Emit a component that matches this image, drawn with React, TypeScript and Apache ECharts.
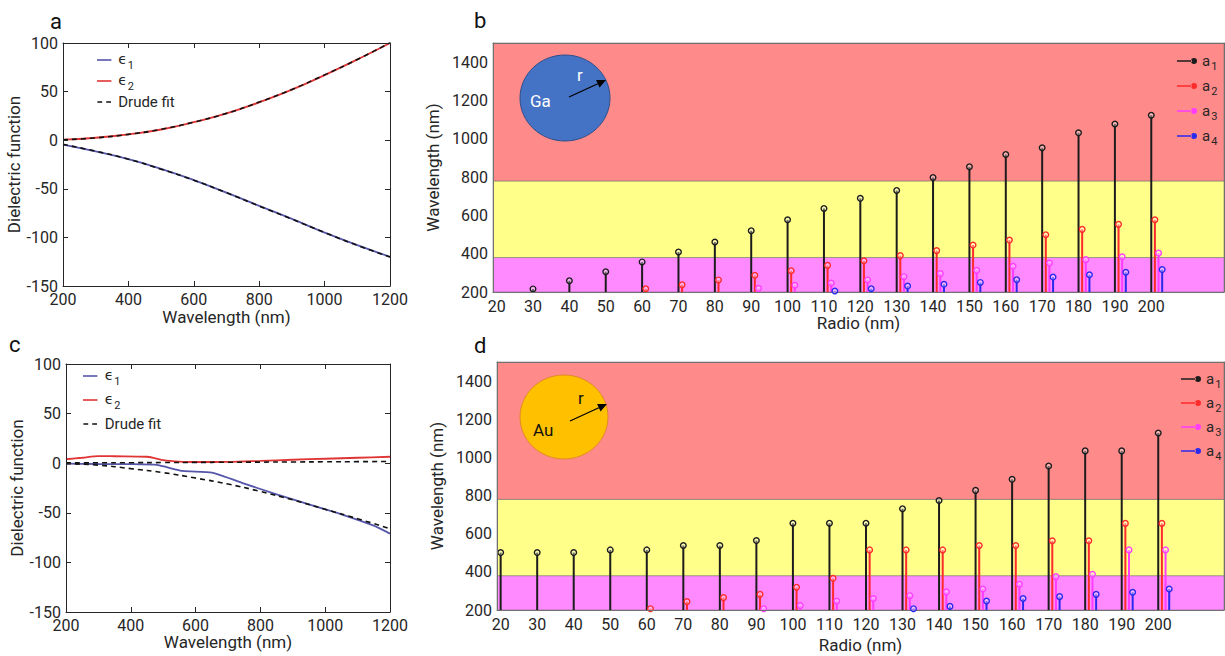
import React, { useEffect, useRef } from 'react';
import * as echarts from 'echarts';

// ---------- data ----------
// Panel a (Ga dielectric function)
const wlGa = [200, 300, 400, 500, 600, 700, 800, 900, 1000, 1100, 1200];
const gaEps1 = [-4.5, -11.5, -19.5, -29.5, -41, -54, -67.5, -81, -95, -108, -120];
const gaEps2 = [0.5, 2.5, 6, 11, 18.5, 27.5, 39, 52, 67, 83, 100];
const gaDrude1 = [-4.3, -11.3, -19.5, -29.8, -41.2, -54, -67.8, -81.2, -95, -108.2, -120.2];
const gaDrude2 = [0.4, 2.4, 6, 11.2, 18.6, 27.6, 39.2, 52.2, 67.2, 83, 100.2];

// Panel c (Au dielectric function)
const wlAuEps1 = [200, 300, 400, 480, 560, 650, 750, 850, 950, 1050, 1150, 1200];
const auEps1 = [-0.5, -0.8, -1, -1.7, -7.8, -9.6, -20.5, -31.5, -41.5, -51.5, -63, -71];
const wlAuEps2 = [200, 250, 300, 350, 450, 500, 550, 600, 700, 800, 900, 1000, 1100, 1200];
const auEps2 = [4, 5.5, 7.2, 7, 6.5, 3, 1.5, 1.2, 1.3, 2.3, 3.5, 4.5, 5.5, 6.5];
const wlAuDrude = [200, 300, 400, 500, 600, 700, 800, 900, 1000, 1100, 1200];
const auDrude1 = [-0.5, -2, -5.5, -9.5, -15, -21, -28.5, -37, -46.5, -56, -66];
const auDrude2 = [0.3, 0.4, 0.5, 0.65, 0.8, 0.95, 1.1, 1.25, 1.4, 1.55, 1.7];

// Panels b, d (resonance wavelengths vs radius)
const radii = [20, 30, 40, 50, 60, 70, 80, 90, 100, 110, 120, 130, 140, 150, 160, 170, 180, 190, 200];
const modeOffsets = [0, 1, 2, 3];
const gaA1 = [null, 216, 259, 306, 357, 409, 461, 520, 577, 636, 689, 730, 798, 854, 918, 953, 1031, 1077, 1123];
const gaA2 = [null, null, null, null, 217, 238, 263, 287, 311, 339, 363, 390, 416, 445, 471, 499, 527, 553, 577];
const gaA3 = [null, null, null, null, null, null, null, 219, 235, 247, 263, 280, 296, 313, 334, 351, 369, 384, 403];
const gaA4 = [null, null, null, null, null, null, null, null, null, 205, 217, 231, 240, 250, 264, 278, 290, 303, 317];
const auA1 = [501, 501, 501, 515, 515, 538, 538, 564, 655, 655, 655, 731, 774, 827, 885, 955, 1034, 1034, 1128];
const auA2 = [null, null, null, null, 207, 244, 265, 282, 319, 366, 515, 515, 515, 538, 538, 563, 563, 654, 654];
const auA3 = [null, null, null, null, null, null, null, 207, 223, 247, 260, 275, 295, 310, 335, 375, 387, 515, 515];
const auA4 = [null, null, null, null, null, null, null, null, null, null, null, 207, 219, 247, 260, 270, 282, 293, 310];

// spectral bands (nm): UV / visible / IR
const bandLow = [200, 380, 780];
const bandHigh = [380, 780, 1500];

const xTicksRadio = [20, 30, 40, 50, 60, 70, 80, 90, 100, 110, 120, 130, 140, 150, 160, 170, 180, 190, 200];
const yTicksWl = [200, 400, 600, 800, 1000, 1200, 1400];

// ---------- styles ----------
const FONT = 'Roboto, "Open Sans", sans-serif';
const TXT = '#262626';
const bandColors = ['#FF8AFF', '#FFFF8A', '#FF8A8A'];
const modeColors = ['#1c1c1c', '#FF2A2A', '#FF3CFF', '#2A2AEE'];
const modeNames = ['a1', 'a2', 'a3', 'a4'];
const blueLine = '#5555AA';
const redLine = '#E03535';

const pairs = (xs: number[], ys: number[]) => xs.map((x, i) => [x, ys[i]]);

const stemData = (vals: (number | null)[], off: number) =>
  radii.map((r, i) => (vals[i] == null ? null : [r + off, vals[i]])).filter((d) => d != null);

const stemRender = (color: string) => (params: any, api: any) => {
  const x = api.value(0);
  const y = api.value(1);
  const top = api.coord([x, y]);
  const base = api.coord([x, 200]);
  return {
    type: 'group',
    children: [
      { type: 'line', shape: { x1: top[0], y1: base[1], x2: top[0], y2: top[1] }, style: { stroke: color, lineWidth: 2 } },
      { type: 'circle', shape: { cx: top[0], cy: top[1], r: 2.8 }, style: { stroke: color, fill: 'rgba(255,255,255,0.35)', lineWidth: 1.4 } },
    ],
  };
};

const bandRender = (params: any, api: any) => {
  const lo = api.value(0);
  const hi = api.value(1);
  const cs = params.coordSys;
  const y1 = api.coord([100, hi])[1];
  const y0 = api.coord([100, lo])[1];
  return {
    type: 'rect',
    shape: { x: cs.x, y: y1, width: cs.width, height: y0 - y1 },
    style: { fill: bandColors[params.dataIndex], stroke: 'rgba(110,110,110,0.55)', lineWidth: 1 },
  };
};

const stemIcon = 'path://M0,2.2L15,2.2L15,3.8L0,3.8Z M14,3A3,3,0,1,0,20,3A3,3,0,1,0,14,3Z';
const solidIcon = 'path://M0,0L18,0L18,2L0,2Z';
const dashIcon = 'path://M0,0L6,0L6,2L0,2Z M11,0L17,0L17,2L11,2Z';

const richText = {
  b: { fontSize: 15, lineHeight: 16, verticalAlign: 'top', color: TXT, fontFamily: FONT },
  e: { fontSize: 14, lineHeight: 16, verticalAlign: 'top', color: TXT, fontFamily: '"DejaVu Sans", sans-serif' },
  s: { fontSize: 11, lineHeight: 11, verticalAlign: 'top', padding: [8, 0, 0, 1], color: TXT, fontFamily: FONT },
  d: { fontSize: 15, lineHeight: 16, verticalAlign: 'top', padding: [0, 0, 3, 0], color: TXT, fontFamily: FONT },
};

const legendFormatter = (name: string) => {
  if (name === 'Drude fit') return '{d|Drude fit}';
  if (name.startsWith('ϵ')) return `{e|ϵ}{s|${name.slice(1)}}`;
  return `{b|${name[0]}}{s|${name.slice(1)}}`;
};

const plainNum = (v: number) => String(v);
const axisLabelStyle = { color: TXT, fontSize: 16, fontFamily: FONT, formatter: plainNum };
const nameStyle = { color: TXT, fontSize: 17, fontFamily: FONT };

function dielectricAxes(grid: number, xGap: number, yGap: number) {
  const lineStyle = { color: '#262626', width: 1 };
  const x = [
    {
      type: 'value', gridIndex: grid, min: 200, max: 1200, interval: 200, z: 5,
      name: 'Wavelength (nm)', nameLocation: 'middle', nameGap: xGap, nameTextStyle: nameStyle,
      axisLine: { show: true, onZero: false, lineStyle },
      axisTick: { show: true, inside: true, length: 5, lineStyle },
      axisLabel: { ...axisLabelStyle, margin: 5 },
      splitLine: { show: false },
    },
    {
      type: 'value', gridIndex: grid, position: 'top', min: 200, max: 1200, interval: 200, z: 5,
      axisLine: { show: true, onZero: false, lineStyle },
      axisTick: { show: true, inside: true, length: 5, lineStyle },
      axisLabel: { show: false }, splitLine: { show: false },
    },
  ];
  const y = [
    {
      type: 'value', gridIndex: grid, min: -150, max: 100, interval: 50, z: 5,
      name: 'Dielectric function', nameLocation: 'middle', nameGap: yGap, nameTextStyle: nameStyle,
      axisLine: { show: true, onZero: false, lineStyle },
      axisTick: { show: true, inside: true, length: 5, lineStyle },
      axisLabel: { ...axisLabelStyle, margin: 5 },
      splitLine: { show: false },
    },
    {
      type: 'value', gridIndex: grid, position: 'right', min: -150, max: 100, interval: 50, z: 5,
      axisLine: { show: true, onZero: false, lineStyle },
      axisTick: { show: true, inside: true, length: 5, lineStyle },
      axisLabel: { show: false }, splitLine: { show: false },
    },
  ];
  return { x, y };
}

function radioAxes(grid: number, xMax: number, xGap: number, yGap: number) {
  const lineStyle = { color: '#707070', width: 1 };
  const x = [
    {
      type: 'value', gridIndex: grid, min: 19, max: xMax, z: 5,
      name: 'Radio (nm)', nameLocation: 'middle', nameGap: xGap, nameTextStyle: nameStyle,
      axisLine: { show: true, onZero: false, lineStyle },
      axisTick: { show: false },
      axisLabel: { ...axisLabelStyle, margin: 6, customValues: xTicksRadio },
      splitLine: { show: false },
    },
    {
      type: 'value', gridIndex: grid, position: 'top', min: 19, max: xMax, z: 5,
      axisLine: { show: true, onZero: false, lineStyle },
      axisTick: { show: false }, axisLabel: { show: false }, splitLine: { show: false },
    },
  ];
  const y = [
    {
      type: 'value', gridIndex: grid, min: 200, max: 1500, z: 5,
      name: 'Wavelength (nm)', nameLocation: 'middle', nameGap: yGap, nameTextStyle: nameStyle,
      axisLine: { show: true, onZero: false, lineStyle },
      axisTick: { show: false },
      axisLabel: { ...axisLabelStyle, margin: 5, customValues: yTicksWl },
      splitLine: { show: false },
    },
    {
      type: 'value', gridIndex: grid, position: 'right', min: 200, max: 1500, z: 5,
      axisLine: { show: true, onZero: false, lineStyle },
      axisTick: { show: false }, axisLabel: { show: false }, splitLine: { show: false },
    },
  ];
  return { x, y };
}

function lineSeries(name: string, xi: number, data: number[][], color: string, dashed: boolean, smooth: boolean | number) {
  return {
    type: 'line', name, xAxisIndex: xi, yAxisIndex: xi, data, smooth,
    symbol: 'none', showSymbol: false, z: dashed ? 4 : 3,
    itemStyle: { color },
    lineStyle: { color, width: dashed ? 1.6 : 1.8, type: dashed ? [5, 4] : 'solid' },
  };
}

function stemSeries(xi: number, sets: (number | null)[][]) {
  const out: any[] = [
    {
      type: 'custom', name: 'bands', xAxisIndex: xi, yAxisIndex: xi, silent: true, z: 1,
      data: bandLow.map((lo, i) => [lo, bandHigh[i]]),
      renderItem: bandRender,
    },
  ];
  sets.forEach((vals, k) => {
    out.push({
      type: 'custom', name: modeNames[k], xAxisIndex: xi, yAxisIndex: xi, z: 3 + k,
      itemStyle: { color: modeColors[k] },
      data: stemData(vals, modeOffsets[k]),
      renderItem: stemRender(modeColors[k]),
    });
  });
  return out;
}

function arrow(x1: number, y1: number, x2: number, y2: number) {
  const dx = x2 - x1, dy = y2 - y1;
  const len = Math.hypot(dx, dy);
  const ux = dx / len, uy = dy / len;
  const nx = -uy, ny = ux;
  const hl = 9, hw = 4.2;
  const bx = x2 - ux * hl, by = y2 - uy * hl;
  return [
    { type: 'line', z: 101, shape: { x1, y1, x2: bx, y2: by }, style: { stroke: '#000', lineWidth: 1.3 } },
    { type: 'polygon', z: 101, shape: { points: [[x2, y2], [bx + nx * hw, by + ny * hw], [bx - nx * hw, by - ny * hw]] }, style: { fill: '#000' } },
  ];
}

export default function App() {
  const ref = useRef<HTMLDivElement>(null);
  useEffect(() => {
    if (!ref.current) return;
    const chart = echarts.init(ref.current, null, { renderer: 'svg' });
    const A = dielectricAxes(0, 22, 40);
    const C = dielectricAxes(1, 21, 40);
    const B = radioAxes(2, 220, 20, 44);
    const D = radioAxes(3, 218, 26, 45);

    const legendBase = {
      orient: 'vertical', formatter: legendFormatter, textStyle: { rich: richText, color: TXT },
      selectedMode: false, padding: 0,
    };
    const epsLegendData = [
      { name: 'ϵ1', icon: solidIcon },
      { name: 'ϵ2', icon: solidIcon },
      { name: 'Drude fit', icon: dashIcon },
    ];

    chart.setOption({
      animation: false,
      backgroundColor: '#ffffff',
      grid: [
        { left: 63, top: 43, width: 327, height: 243 },
        { left: 66, top: 364, width: 324, height: 248 },
        { left: 493, top: 43, width: 731, height: 249 },
        { left: 497, top: 362, width: 727, height: 248 },
      ],
      xAxis: [...A.x, ...C.x, ...B.x, ...D.x],
      yAxis: [...A.y, ...C.y, ...B.y, ...D.y],
      legend: [
        { ...legendBase, left: 97, top: 52, itemWidth: 18, itemHeight: 1.6, itemGap: 2, data: epsLegendData },
        { ...legendBase, left: 83, top: 368, itemWidth: 19, itemHeight: 1.6, itemGap: 5, data: epsLegendData },
        { ...legendBase, left: 1177, top: 53, itemWidth: 20, itemHeight: 6, itemGap: 6, icon: stemIcon, data: modeNames },
        { ...legendBase, left: 1181, top: 371, itemWidth: 20, itemHeight: 6, itemGap: 5, icon: stemIcon, data: modeNames },
      ],
      series: [
        lineSeries('ϵ1', 0, pairs(wlGa, gaEps1), blueLine, false, true),
        lineSeries('ϵ2', 0, pairs(wlGa, gaEps2), redLine, false, true),
        lineSeries('Drude fit', 0, pairs(wlGa, gaDrude1), '#111', true, true),
        lineSeries('Drude fit', 0, pairs(wlGa, gaDrude2), '#111', true, true),
        lineSeries('ϵ1', 2, pairs(wlAuEps1, auEps1), blueLine, false, 0.15),
        lineSeries('ϵ2', 2, pairs(wlAuEps2, auEps2), redLine, false, 0.3),
        lineSeries('Drude fit', 2, pairs(wlAuDrude, auDrude1), '#111', true, true),
        lineSeries('Drude fit', 2, pairs(wlAuDrude, auDrude2), '#111', true, true),
        ...stemSeries(4, [gaA1, gaA2, gaA3, gaA4]),
        ...stemSeries(6, [auA1, auA2, auA3, auA4]),
      ],
      graphic: [
        { type: 'text', z: 100, left: 50, top: 10, style: { text: 'a', fontSize: 22, fill: '#111', fontFamily: FONT } },
        { type: 'text', z: 100, left: 474, top: 9, style: { text: 'b', fontSize: 22, fill: '#111', fontFamily: FONT } },
        { type: 'text', z: 100, left: 9, top: 333, style: { text: 'c', fontSize: 22, fill: '#111', fontFamily: FONT } },
        { type: 'text', z: 100, left: 474, top: 334, style: { text: 'd', fontSize: 22, fill: '#111', fontFamily: FONT } },
        { type: 'ellipse', z: 100, shape: { cx: 565, cy: 98, rx: 45, ry: 43 }, style: { fill: '#4472C4', stroke: '#2F4F8A', lineWidth: 1 } },
        { type: 'text', z: 101, x: 530, y: 92, style: { text: 'Ga', fontSize: 17, fill: '#ffffff', fontFamily: FONT } },
        { type: 'text', z: 101, x: 577, y: 66, style: { text: 'r', fontSize: 17, fill: '#ffffff', fontFamily: FONT } },
        ...arrow(569, 97, 606, 80),
        { type: 'ellipse', z: 100, shape: { cx: 564, cy: 417, rx: 44, ry: 42 }, style: { fill: '#FFC000', stroke: '#E08A2A', lineWidth: 1 } },
        { type: 'text', z: 101, x: 533, y: 421, style: { text: 'Au', fontSize: 17, fill: '#111', fontFamily: FONT } },
        { type: 'text', z: 101, x: 578, y: 389, style: { text: 'r', fontSize: 17, fill: '#111', fontFamily: FONT } },
        ...arrow(570, 421, 607, 404),
      ],
    });
    return () => chart.dispose();
  }, []);
  return <div ref={ref} style={{ position: 'fixed', left: 0, top: 0, width: 1225, height: 656, background: '#fff' }} />;
}
